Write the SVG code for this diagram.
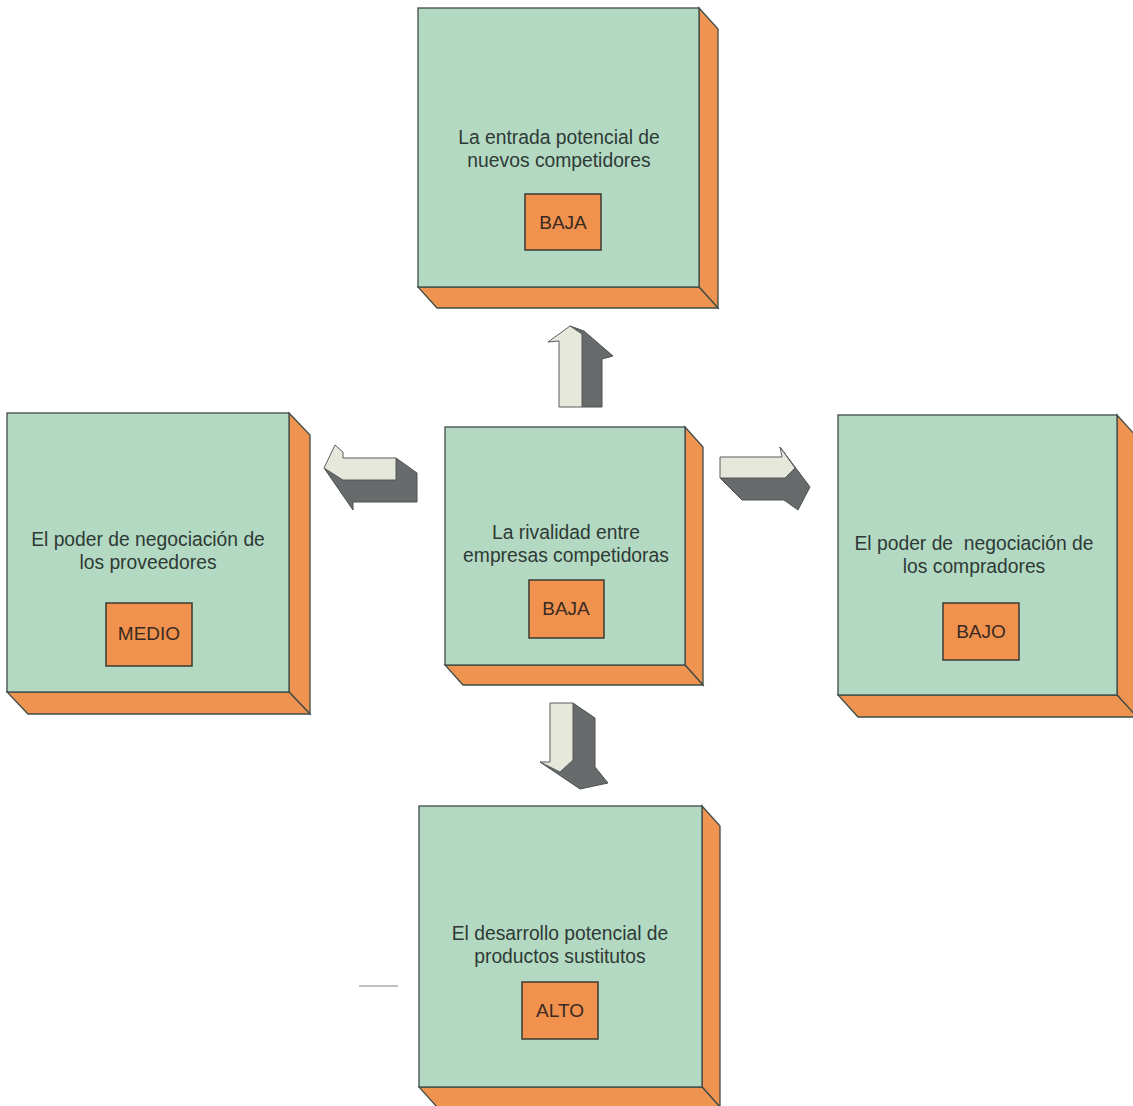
<svg xmlns="http://www.w3.org/2000/svg" width="1133" height="1106" viewBox="0 0 1133 1106">
<style>
.front{fill:#B4D9C3;stroke:#3f4c47;stroke-width:1.3}
.side{fill:#EF9450;stroke:#3f4c47;stroke-width:1.3}
.tag{fill:#F0924E;stroke:#3a3a32;stroke-width:1.5}
.lbl{font-family:"Liberation Sans",Arial,sans-serif;font-size:19.3px;fill:#2E3A35;text-anchor:middle;white-space:pre}
.val{font-family:"Liberation Sans",Arial,sans-serif;font-size:19px;fill:#3a2a22;text-anchor:middle}
.alight{fill:#E6E8DC;stroke:#5a5e5e;stroke-width:1}
.adark{fill:#676B6B;stroke:#4e5252;stroke-width:1}
</style>
<rect width="1133" height="1106" fill="#ffffff"/>

<g id="node-entrada">
<polygon class="side" points="699,8 718,29 718,308 699,287"/>
<polygon class="side" points="418,287 699,287 718,308 437,308"/>
<rect class="front" x="418" y="8" width="281" height="279"/>
<text class="lbl" x="559" y="144">La entrada potencial de</text>
<text class="lbl" x="559" y="167">nuevos competidores</text>
<rect class="tag" x="525" y="194" width="76" height="56"/>
<text class="val" x="563" y="229">BAJA</text>
</g>

<g id="node-rivalidad">
<polygon class="side" points="685,427 703,447 703,685 685,665"/>
<polygon class="side" points="445,665 685,665 703,685 463,685"/>
<rect class="front" x="445" y="427" width="240" height="238"/>
<text class="lbl" x="566" y="539">La rivalidad entre</text>
<text class="lbl" x="566" y="562">empresas competidoras</text>
<rect class="tag" x="529" y="580" width="75" height="58"/>
<text class="val" x="566" y="615">BAJA</text>
</g>

<g id="node-proveedores">
<polygon class="side" points="289,413 310,435 310,714 289,692"/>
<polygon class="side" points="7,692 289,692 310,714 28,714"/>
<rect class="front" x="7" y="413" width="282" height="279"/>
<text class="lbl" x="148" y="546">El poder de negociación de</text>
<text class="lbl" x="148" y="569">los proveedores</text>
<rect class="tag" x="106" y="603" width="86" height="63"/>
<text class="val" x="149" y="640">MEDIO</text>
</g>

<g id="node-compradores">
<polygon class="side" points="1117,415 1137,437 1137,717 1117,695"/>
<polygon class="side" points="838,695 1117,695 1137,717 858,717"/>
<rect class="front" x="838" y="415" width="279" height="280"/>
<text class="lbl" x="974" y="550">El poder de  negociación de</text>
<text class="lbl" x="974" y="573">los compradores</text>
<rect class="tag" x="943" y="603" width="76" height="57"/>
<text class="val" x="981" y="638">BAJO</text>
</g>

<g id="node-sustitutos">
<polygon class="side" points="702,806 720,826 720,1107 702,1087"/>
<polygon class="side" points="419,1087 702,1087 720,1107 437,1107"/>
<rect class="front" x="419" y="806" width="283" height="281"/>
<text class="lbl" x="560" y="940">El desarrollo potencial de</text>
<text class="lbl" x="560" y="963">productos sustitutos</text>
<rect class="tag" x="522" y="982" width="76" height="57"/>
<text class="val" x="560" y="1017">ALTO</text>
</g>

<g id="connectors">
<g id="arrow-up">
<path class="adark" d="M582,407 L582,334 L570,326 L584,331 L613,356 L602,359 L602,407 Z"/>
<path class="alight" d="M559,407 L559,341 L548,342 L570,326 L582,334 L582,407 Z"/>
</g>
<g id="arrow-left">
<path class="adark" d="M324,468 L343,480 L396,480 L396,458 L417,473 L417,502 L353,502 L353,510 Z"/>
<path class="alight" d="M324,468 L335,445 L343,452 L343,458 L396,458 L396,480 L343,480 Z"/>
</g>
<g id="arrow-right">
<path class="adark" d="M720,478 L785,478 L795,468 L780,447 L810,487 L798,510 L784,500 L742,500 Z"/>
<path class="alight" d="M720,457 L782,457 L780,447 L795,468 L785,478 L720,478 Z"/>
</g>
<g id="arrow-down">
<path class="adark" d="M573,703 L595,718 L595,767 L608,783 L580,789 L540,762 L560,772 L573,760 Z"/>
<path class="alight" d="M550,703 L573,703 L573,760 L560,772 L540,762 L550,762 Z"/>
</g>
</g>

<line x1="359" y1="986" x2="398" y2="986" stroke="#a9aaa8" stroke-width="1.5"/>
</svg>
